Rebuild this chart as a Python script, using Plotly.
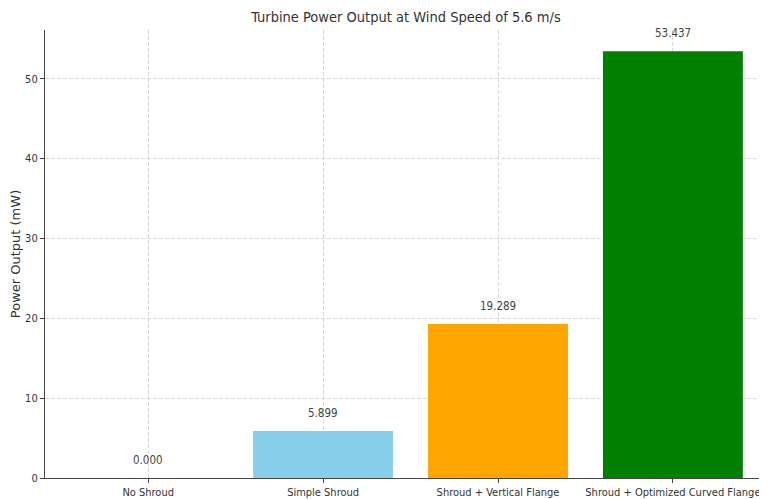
import plotly.graph_objects as go

categories = ["No Shroud", "Simple Shroud", "Shroud + Vertical Flange", "Shroud + Optimized Curved Flange"]
power_mw = [0.000, 5.899, 19.289, 53.437]
bar_colors = ["#808080", "#87CEEB", "#FFA500", "#008000"]
y_ticks = [0, 10, 20, 30, 40, 50]

cond = "DejaVu Sans Condensed, Liberation Sans Narrow, DejaVu Sans, sans-serif"

# page body has an 8px default margin; size the figure to fill the remaining window
W, H, OFF = 767 - 8, 499 - 8, 8

x_idx = list(range(len(categories)))
fig = go.Figure()
fig.add_trace(go.Bar(x=x_idx, y=power_mw, width=0.8, marker=dict(color=bar_colors, line=dict(width=0)),
                     hoverinfo="skip"))

for i, v in zip(x_idx, power_mw):
    fig.add_annotation(x=i, y=v, text=f"{v:.3f}", showarrow=False, yanchor="bottom", yshift=9,
                       font=dict(family=cond, size=11.5, color="#444"))

grid = dict(showgrid=True, gridcolor="#d9d9d9", griddash="4px,2px", gridwidth=1)
axis_common = dict(showline=True, linecolor="#444", linewidth=1.2, ticks="outside", ticklen=4,
                   tickcolor="#444", tickfont=dict(family=cond, size=11, color="#333"),
                   zeroline=False, automargin=False, layer="above traces", ticklabeloverflow="allow")

fig.update_layout(
    width=W, height=H,
    margin=dict(l=45 - OFF, r=0, t=30 - OFF, b=21, pad=0),
    paper_bgcolor="white", plot_bgcolor="white",
    showlegend=False,
    title=dict(text="Turbine Power Output at Wind Speed of 5.6 m/s", x=0.5, xref="paper", xanchor="center",
               y=1 - (17 - OFF) / H, yref="container", yanchor="middle",
               font=dict(family=cond, size=14.5, color="#333")),
    xaxis=dict(range=[-0.59, 3.538], tickmode="array", tickvals=x_idx, ticktext=categories,
               **grid, **axis_common),
    yaxis=dict(range=[0, 56.109], tickmode="array", tickvals=y_ticks, **grid, **axis_common,
               title=dict(text="Power Output (mW)", font=dict(family="DejaVu Sans, sans-serif", size=13, color="#333"),
                          standoff=8)),
)
fig.write_html("out.html")
